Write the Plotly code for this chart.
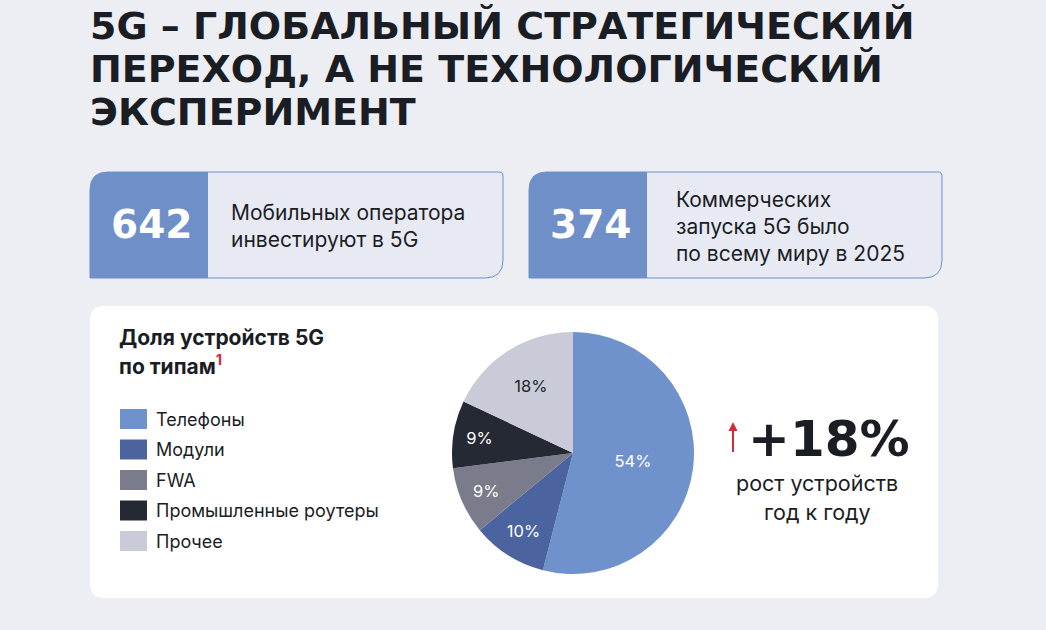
#!/usr/bin/env python3
"""5G infographic: device share pie with stat cards."""
import plotly.graph_objects as go

W, H = 1046, 630

TITLE_LINES = [
    "5G – ГЛОБАЛЬНЫЙ СТРАТЕГИЧЕСКИЙ",
    "ПЕРЕХОД, А НЕ ТЕХНОЛОГИЧЕСКИЙ",
    "ЭКСПЕРИМЕНТ",
]

CARD_NUMBERS = ["642", "374"]
CARD_TEXTS = [
    ["Мобильных оператора", "инвестируют в 5G"],
    ["Коммерческих", "запуска 5G было", "по всему миру в 2025"],
]

DEVICE_TYPES = ["Телефоны", "Модули", "FWA", "Промышленные роутеры", "Прочее"]
DEVICE_SHARE = [54, 10, 9, 9, 18]
DEVICE_COLORS = ["#7092cc", "#4b64a0", "#7b7c8b", "#252933", "#c9cbd8"]
LABEL_COLORS = ["#ffffff", "#ffffff", "#ffffff", "#ffffff", "#22252e"]

GROWTH = "+18%"
GROWTH_TEXT = ["рост устройств", "год к году"]

BG = "#eceef3"
CARD_BLUE = "#6f8fc9"
CARD_FILL = "#e8eaf3"
INK = "#1b1d24"
RED = "#d42a3a"
SANS = "Inter, Roboto, sans-serif"
WIDE = "DejaVu Sans, sans-serif"


def px(x):
    return x / W


def py(y):
    return 1 - y / H


def to_path(cmds):
    parts = []
    for cmd, coords in cmds:
        parts.append(cmd + " ".join(f"{px(x):.5f},{py(y):.5f}" for x, y in coords))
    return " ".join(parts) + " Z"


def rounded_path(x0, y0, x1, y1, tl=0, tr=0, br=0, bl=0):
    """Rectangle given in pixels with per-corner radii, as a paper-coord path."""
    return to_path([
        ("M", [(x0 + tl, y0)]),
        ("L", [(x1 - tr, y0)]),
        ("Q", [(x1, y0), (x1, y0 + tr)]),
        ("L", [(x1, y1 - br)]),
        ("Q", [(x1, y1), (x1 - br, y1)]),
        ("L", [(x0 + bl, y1)]),
        ("Q", [(x0, y1), (x0, y1 - bl)]),
        ("L", [(x0, y0 + tl)]),
        ("Q", [(x0, y0), (x0 + tl, y0)]),
    ])


def text(x, y, s, size, color=INK, family=SANS, anchor="left", bold=False):
    if bold:
        s = f"<b>{s}</b>"
    return dict(
        x=px(x), y=py(y), xref="paper", yref="paper", text=s, showarrow=False,
        xanchor=anchor, yanchor="middle",
        font=dict(size=size, color=color, family=family),
    )


fig = go.Figure()

fig.add_trace(
    go.Pie(
        labels=DEVICE_TYPES,
        values=DEVICE_SHARE,
        sort=False,
        direction="clockwise",
        rotation=0,
        marker=dict(colors=DEVICE_COLORS, line=dict(width=0)),
        texttemplate="%{value}%",
        textposition="inside",
        insidetextorientation="horizontal",
        textfont=dict(size=16.5, color=LABEL_COLORS, family=SANS),
        domain=dict(x=[px(452), px(694)], y=[py(574), py(332)]),
        showlegend=False,
        hovertemplate="%{label}: %{value}%<extra></extra>",
    )
)

shapes = []
annotations = []

# title
for i, line in enumerate(TITLE_LINES):
    annotations.append(text(88, 26 + i * 43, line, 38, family=WIDE, bold=True))

# stat cards
card_x = [90, 529]
for i, x0 in enumerate(card_x):
    x1 = x0 + 413
    shapes.append(dict(
        type="path", xref="paper", yref="paper",
        path=rounded_path(x0, 172, x1, 278, tl=18, tr=4, br=18),
        fillcolor=CARD_FILL, line=dict(color=CARD_BLUE, width=1), layer="below",
    ))
    shapes.append(dict(
        type="path", xref="paper", yref="paper",
        path=rounded_path(x0, 172, x0 + 118, 278, tl=18),
        fillcolor=CARD_BLUE, line=dict(width=0), layer="below",
    ))
    annotations.append(text(x0 + 61, 224, CARD_NUMBERS[i], 39, color="#ffffff",
                            family=WIDE, anchor="center", bold=True))
    lines = CARD_TEXTS[i]
    step = 27
    y_start = 226 - step * (len(lines) - 1) / 2
    for j, ln in enumerate(lines):
        annotations.append(text(x0 + 139 + (6 if i else 0), y_start + j * step, ln, 21))

# white panel
shapes.append(dict(
    type="path", xref="paper", yref="paper",
    path=rounded_path(90, 306, 938, 598, tl=14, tr=14, br=14, bl=14),
    fillcolor="#ffffff", line=dict(width=0), layer="below",
))

annotations.append(text(117, 337, "Доля устройств 5G", 21, bold=True))
annotations.append(text(
    117, 365, f"<b>по типам</b><sup><span style='color:{RED}'><b>1</b></span></sup>", 21))

# legend
for i, (lab, col) in enumerate(zip(DEVICE_TYPES, DEVICE_COLORS)):
    yc = 419 + i * 30.5
    shapes.append(dict(
        type="rect", xref="paper", yref="paper",
        x0=px(120), x1=px(147), y0=py(yc + 10), y1=py(yc - 10),
        fillcolor=col, line=dict(width=0),
    ))
    annotations.append(text(154, yc, lab, 18))

# growth block: red up arrow
shapes.append(dict(
    type="line", xref="paper", yref="paper",
    x0=px(733), x1=px(733), y0=py(452), y1=py(429),
    line=dict(color=RED, width=2),
))
shapes.append(dict(
    type="path", xref="paper", yref="paper",
    path=to_path([("M", [(728.5, 431)]), ("L", [(733, 422)]), ("L", [(737.5, 431)])]),
    fillcolor=RED, line=dict(width=0),
))
annotations.append(text(829, 439, GROWTH, 50, family=WIDE, anchor="center", bold=True))
for j, ln in enumerate(GROWTH_TEXT):
    annotations.append(text(817, 483 + j * 29, ln, 21.5, anchor="center"))

fig.update_layout(
    width=W, height=H,
    margin=dict(l=0, r=0, t=0, b=0),
    paper_bgcolor=BG,
    plot_bgcolor=BG,
    shapes=shapes,
    annotations=annotations,
)

fig.write_html(
    "out.html",
    config={"displayModeBar": False},
    post_script="document.body.style.margin='0';document.body.style.overflow='hidden';",
)
